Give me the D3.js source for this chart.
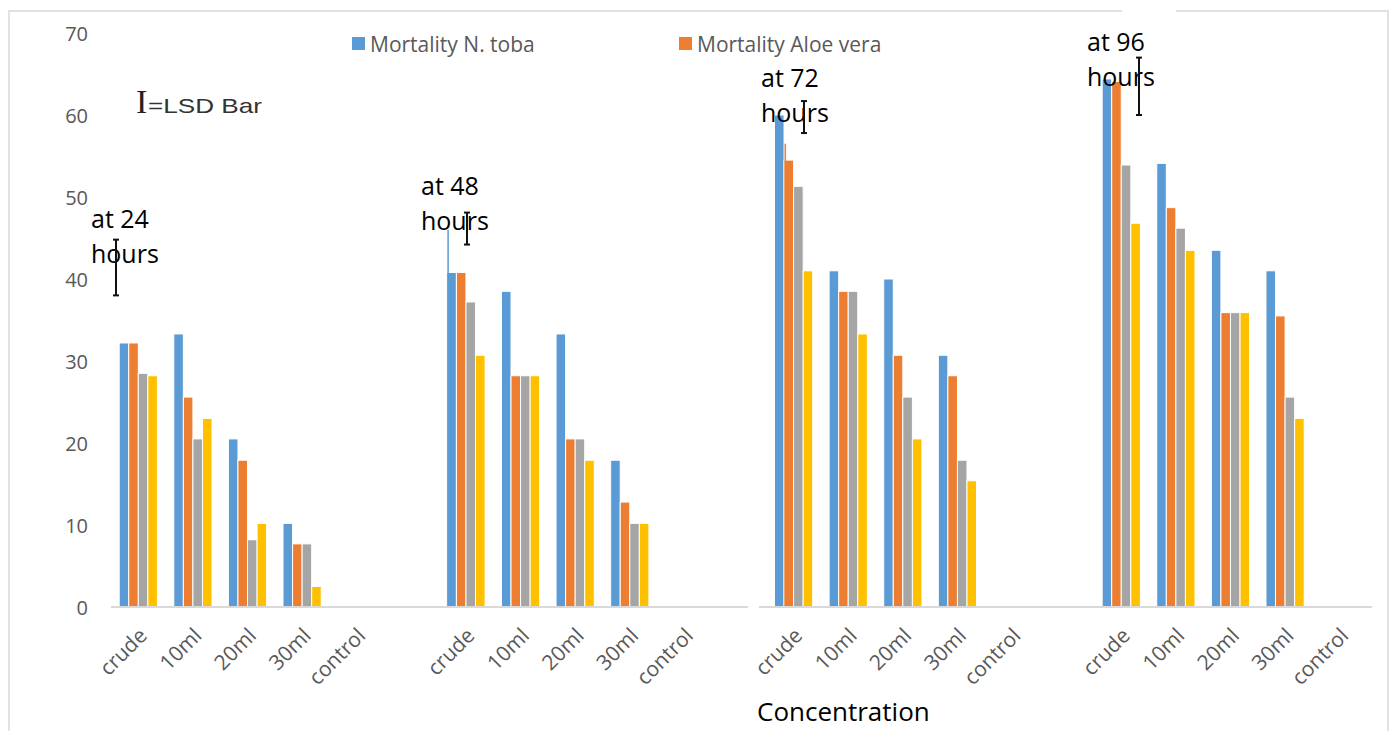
<!DOCTYPE html>
<html>
<head>
<meta charset="utf-8">
<script src="https://cdn.jsdelivr.net/npm/d3@7"></script>
<style>
  body { margin: 0; background: #fff; }
  svg { display: block; font-family: 'Open Sans', sans-serif; }
</style>
</head>
<body>
<div class="canvas"></div>
<script>
// Data
const groups = ['24', '48', '72', '96']
const concentrations = ['crude', '10ml', '20ml', '30ml', 'control']
const seriesNames = ['Mortality N. toba', 'Mortality Aloe vera', 'Series3', 'Series4']
const legendNames = ['Mortality N. toba', 'Mortality Aloe vera']
const yTicks = [0, 10, 20, 30, 40, 50, 60, 70]

// one value per concentration, groups in order 24h, 48h, 72h, 96h
const ntoba = [32.2, 33.3, 20.5, 10.2, 0,  40.8, 38.5, 33.3, 17.9, 0,  60.0, 41.0, 40.0, 30.7, 0,  64.4, 54.1, 43.5, 41.0, 0]
const aloe  = [32.2, 25.6, 17.9, 7.7, 0,   40.8, 28.2, 20.5, 12.8, 0,  54.5, 38.5, 30.7, 28.2, 0,  64.1, 48.7, 35.9, 35.5, 0]
const s3    = [28.5, 20.5, 8.2, 7.7, 0,    37.2, 28.2, 20.5, 10.2, 0,  51.3, 38.5, 25.6, 17.9, 0,  53.9, 46.2, 35.9, 25.6, 0]
const s4    = [28.2, 23.0, 10.2, 2.5, 0,   30.7, 28.2, 17.9, 10.2, 0,  41.0, 33.3, 20.5, 15.4, 0,  46.8, 43.5, 35.9, 23.0, 0]

// LSD bars per group
const lsdLow  = [38.0, 44.2, 57.8, 60.0]
const lsdHigh = [44.8, 48.1, 61.7, 67.0]

// stray bar slivers visible in the picture (group, series, value)
const slivers = [[1, 0, 46.0], [2, 1, 56.5]]

const colors = ['#5B9BD5', '#ED7D31', '#A5A5A5', '#FFC000']
const seriesValues = [ntoba, aloe, s3, s4]

// slots: 5 concentrations per group with a blank slot between groups
const slots = []
const slotLabels = []
groups.forEach((g, gi) => {
  concentrations.forEach(c => { slots.push(g + '-' + c); slotLabels.push(c) })
  if (gi < groups.length - 1) { slots.push('gap' + gi); slotLabels.push('') }
})
const slotOf = (gi, ci) => groups[gi] + '-' + concentrations[ci]

const data = []
groups.forEach((g, gi) => {
  concentrations.forEach((c, ci) => {
    seriesValues.forEach((vals, si) => {
      data.push({ slot: slotOf(gi, ci), series: si, value: vals[gi * 5 + ci] })
    })
  })
})

const width = 1395
const height = 731

const svg = d3.select('.canvas')
  .append('svg')
  .attr('width', width)
  .attr('height', height)

// Chart border
svg.append('rect')
  .attr('x', 9).attr('y', 11)
  .attr('width', 1379).attr('height', 740)
  .attr('fill', 'none')
  .attr('stroke', '#D9D9D9')
  .attr('stroke-width', 1.5)

// Scales
const x0 = d3.scaleBand()
  .domain(slots)
  .range([111, 1367])
  .paddingInner(0.3)
  .paddingOuter(0.15)

const x1 = d3.scaleBand()
  .domain(d3.range(seriesNames.length))
  .range([0, x0.bandwidth()])

const y = d3.scaleLinear()
  .domain([0, 70])
  .range([607, 33])

// Y axis labels
const yAxis = d3.axisLeft(y).tickValues(yTicks).tickSize(0).tickPadding(0)
const yAxisGroup = svg.append('g').attr('transform', 'translate(88, 0)').call(yAxis)
yAxisGroup.select('.domain').remove()
yAxisGroup.selectAll('text')
  .attr('fill', '#595959')
  .attr('font-size', 20)
  .attr('font-family', "'Open Sans', sans-serif")
  .attr('dy', '0.35em')

// Bars
svg.append('g').selectAll('rect')
  .data(data)
  .enter()
  .append('rect')
  .attr('x', d => x0(d.slot) + x1(d.series))
  .attr('y', d => y(d.value))
  .attr('width', x1.bandwidth())
  .attr('height', d => y(0) - y(d.value))
  .attr('fill', d => colors[d.series])
  .attr('stroke', '#fff')
  .attr('stroke-width', 1)

svg.append('g').selectAll('rect')
  .data(slivers)
  .enter()
  .append('rect')
  .attr('x', d => x0(slotOf(d[0], 0)) + x1(d[1]) + 0.5)
  .attr('y', d => y(d[2]))
  .attr('width', 1.5)
  .attr('height', d => y(0) - y(d[2]))
  .attr('fill', d => colors[d[1]])

// X axis line
svg.append('line')
  .attr('x1', 111).attr('x2', 1372)
  .attr('y1', y(0)).attr('y2', y(0))
  .attr('stroke', '#D9D9D9')
  .attr('stroke-width', 2)
svg.append('rect')
  .attr('x', 748).attr('y', y(0) - 2)
  .attr('width', 11).attr('height', 4)
  .attr('fill', '#fff')

// X labels
svg.append('g').selectAll('text')
  .data(slots)
  .enter()
  .append('text')
  .attr('transform', (d, i) => `translate(${x0(d) + x0.bandwidth() / 2 + 10}, ${y(0) + 30}) rotate(-45)`)
  .attr('text-anchor', 'end')
  .attr('fill', '#595959')
  .attr('font-size', 21)
  .text((d, i) => slotLabels[i])

// Axis title
svg.append('text')
  .attr('x', 757).attr('y', 721)
  .attr('font-size', 26)
  .attr('fill', '#000')
  .text('Concentration')

// Legend
const legend = svg.append('g')
const legendX = [352, 679]
legendNames.forEach((name, i) => {
  legend.append('rect')
    .attr('x', legendX[i]).attr('y', 37)
    .attr('width', 13).attr('height', 13)
    .attr('fill', colors[i])
  legend.append('text')
    .attr('x', legendX[i] + 18).attr('y', 52)
    .attr('font-size', 21)
    .attr('fill', '#595959')
    .text(name)
})

// LSD key
svg.append('text')
  .attr('x', 136).attr('y', 113)
  .attr('font-family', "'Liberation Serif', serif")
  .attr('font-size', 34)
  .attr('fill', '#222')
  .text('I')
svg.append('text')
  .attr('x', 148).attr('y', 113)
  .attr('font-family', "'Liberation Sans', Arial, sans-serif")
  .attr('font-size', 21)
  .attr('fill', '#333')
  .attr('textLength', 114)
  .attr('lengthAdjust', 'spacingAndGlyphs')
  .text('=LSD Bar')

// Group annotations
const noteX = [91, 421, 761, 1087]
const noteY = [228, 195, 87, 51]
svg.append('rect')
  .attr('x', 1122).attr('y', 8)
  .attr('width', 54).attr('height', 6)
  .attr('fill', '#fff')
groups.forEach((g, gi) => {
  const t = svg.append('text')
    .attr('x', noteX[gi]).attr('y', noteY[gi])
    .attr('font-size', 25)
    .attr('fill', '#000')
  t.append('tspan').attr('x', noteX[gi]).text('at ' + g)
  t.append('tspan').attr('x', noteX[gi]).attr('dy', 35).text('hours')
})

// LSD bars
const lsdX = [116, 467, 804, 1139]
const lsd = svg.append('g').attr('stroke', '#111').attr('stroke-width', 2)
groups.forEach((g, gi) => {
  const cx = lsdX[gi]
  lsd.append('line')
    .attr('x1', cx).attr('x2', cx)
    .attr('y1', y(lsdHigh[gi])).attr('y2', y(lsdLow[gi]))
  lsd.append('line')
    .attr('x1', cx - 3).attr('x2', cx + 3)
    .attr('y1', y(lsdHigh[gi])).attr('y2', y(lsdHigh[gi]))
  lsd.append('line')
    .attr('x1', cx - 3).attr('x2', cx + 3)
    .attr('y1', y(lsdLow[gi])).attr('y2', y(lsdLow[gi]))
})
</script>
</body>
</html>
